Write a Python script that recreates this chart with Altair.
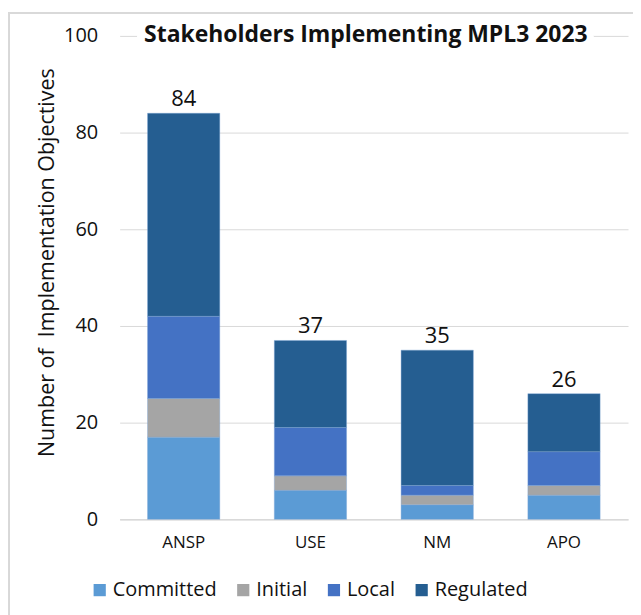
import altair as alt
import pandas as pd

stakeholders = ["ANSP", "USE", "NM", "APO"]
statuses = ["Committed", "Initial", "Local", "Regulated"]
committed = [17, 6, 3, 5]
initial = [8, 3, 2, 2]
local = [17, 10, 2, 7]
regulated = [42, 18, 28, 12]
colors = ["#5B9BD5", "#A5A5A5", "#4472C4", "#255E91"]

rows = []
for i, s in enumerate(stakeholders):
    for j, (st, vals) in enumerate(zip(statuses, [committed, initial, local, regulated])):
        rows.append({"Stakeholder": s, "Status": st, "Value": vals[i], "order": j})
df = pd.DataFrame(rows)

FONT = "Open Sans"

x_enc = alt.X("Stakeholder:N", sort=stakeholders,
              scale=alt.Scale(paddingInner=0.43, paddingOuter=0.22),
              axis=alt.Axis(title=None, labelAngle=0, labelFontSize=17, labelColor="#111111",
                            labelFont=FONT, ticks=False, domainColor="#d9d9d9", domainWidth=1.5,
                            labelPadding=15, grid=False))

bars = alt.Chart(df).mark_bar(stroke="#7fa6d6", strokeWidth=0.4).encode(
    x=x_enc,
    y=alt.Y("Value:Q", stack="zero",
            scale=alt.Scale(domain=[0, 100]),
            axis=alt.Axis(values=[0, 20, 40, 60, 80, 100],
                          title="Number of\u00a0 Implementation Objectives",
                          titleFontSize=21.5, titleFontWeight="normal", titleFont=FONT,
                          titleColor="#111111", titlePadding=5, titleY=227,
                          labelFontSize=20, labelFont=FONT, labelColor="#111111",
                          labelPadding=22, ticks=False, domain=False, gridColor="#d9d9d9",
                          gridWidth=1)),
    color=alt.Color("Status:N", sort=statuses,
                    scale=alt.Scale(domain=statuses, range=colors),
                    legend=alt.Legend(title=None, orient="none", direction="horizontal",
                                      legendX=-30, legendY=546, symbolType="square",
                                      symbolSize=150, symbolStrokeWidth=0, labelFontSize=20,
                                      labelFont=FONT, labelColor="#111111", columnPadding=16,
                                      labelOffset=3)),
    order=alt.Order("order:Q", sort="ascending"),
)

totals = alt.Chart(df).mark_text(dy=-14, fontSize=22, font=FONT, color="#111111").encode(
    x=alt.X("Stakeholder:N", sort=stakeholders),
    y=alt.Y("sum(Value):Q"),
    text=alt.Text("sum(Value):Q"),
)

title_bg = alt.Chart(df).mark_rect(color="white").encode(
    x=alt.value(18), x2=alt.value(475), y=alt.value(-14), y2=alt.value(12)
)

border = alt.Chart(df).mark_rect(fill="transparent", stroke="#d9d9d9", strokeWidth=1.5).encode(
    x=alt.value(-111), x2=alt.value(519), y=alt.value(-23), y2=alt.value(600)
)

chart = alt.layer(bars, totals, title_bg, border).properties(
    width=510, height=485,
    title=alt.TitleParams("Stakeholders Implementing MPL3 2023", fontSize=23, font=FONT,
                          fontWeight="bold", color="#111111", offset=-35, anchor="middle", dx=-8),
    autosize=alt.AutoSizeParams(type="none"),
    padding={"left": 112, "top": 27, "right": 5, "bottom": 100},
).configure_view(stroke=None)

chart.save("out.html", embed_options={"renderer": "svg", "actions": False})
